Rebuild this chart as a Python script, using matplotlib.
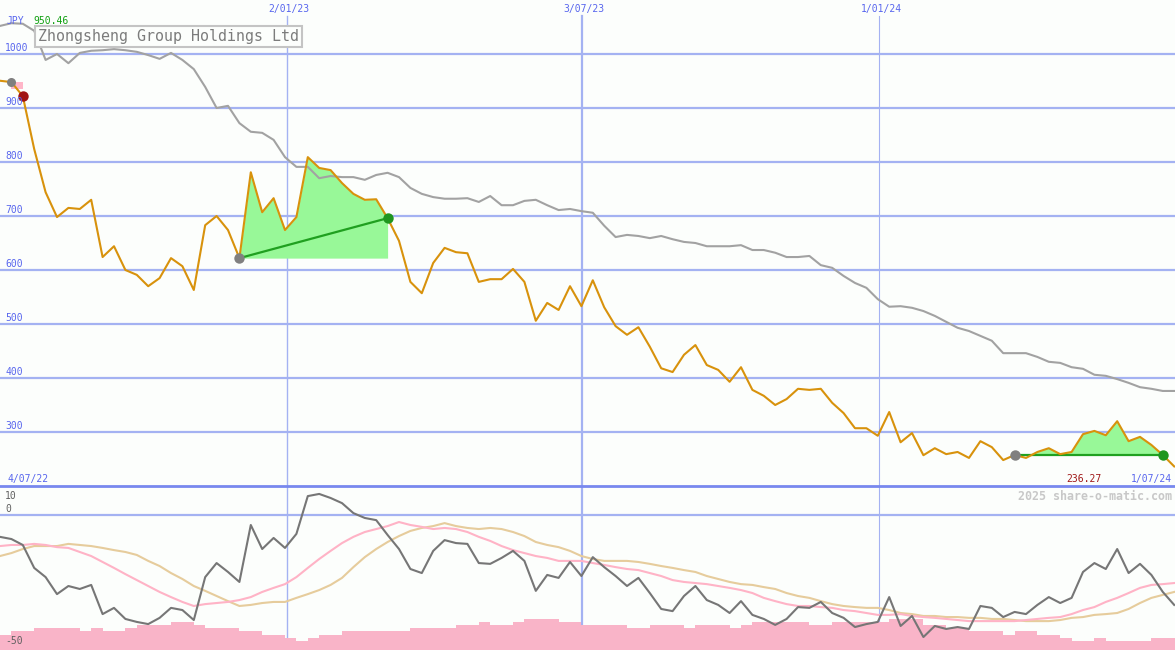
import numpy as np
import matplotlib.pyplot as plt

# weekly closes, JPY
price = [950.46, 948, 922, 824, 744, 698, 715, 713, 730, 624,
         644, 600, 591, 570, 585, 622, 607, 563, 683, 700,
         674, 622, 781, 707, 733, 674, 698, 809, 789, 785,
         761, 741, 730, 731, 696, 654, 578, 557, 613, 641,
         633, 631, 578, 583, 583, 602, 578, 506, 539, 526,
         570, 533, 581, 531, 496, 480, 494, 458, 418, 411,
         443, 461, 424, 415, 393, 420, 378, 367, 350, 361,
         380, 378, 380, 354, 335, 307, 307, 293, 337, 281,
         298, 257, 270, 259, 263, 252, 283, 272, 248, 257.4,
         252, 263, 270, 259, 263, 296, 302, 294, 320, 283,
         291, 276, 257.4, 236.27]

# market index rebased to the price scale
market = [1052, 1057, 1056, 1043, 989, 1000, 983, 1002, 1006, 1007,
          1009, 1007, 1004, 998, 991, 1002, 989, 972, 939, 900,
          904, 872, 856, 854, 841, 809, 791, 791, 770, 774,
          772, 772, 767, 776, 780, 772, 752, 741, 735, 732,
          732, 733, 726, 737, 720, 720, 728, 730, 720, 711,
          713, 709, 706, 682, 661, 665, 663, 659, 663, 657,
          652, 650, 644, 644, 644, 646, 637, 637, 632, 624,
          624, 626, 609, 604, 589, 576, 567, 546, 532, 533,
          530, 524, 515, 504, 493, 487, 478, 469, 446, 446,
          446, 439, 430, 428, 420, 417, 406, 404, 398, 391,
          383, 380, 376, 376]

momentum = [-8.1, -8.9, -11.1, -19.6, -23.0, -29.3, -26.3, -27.4, -25.9, -36.7,
            -34.4, -38.5, -39.6, -40.4, -38.1, -34.4, -35.2, -38.9, -23.0, -17.8,
            -21.1, -24.8, -3.7, -12.6, -8.5, -12.2, -7.0, 7.0, 7.8, 6.3,
            4.4, 0.7, -1.1, -1.9, -7.4, -12.6, -20.0, -21.5, -13.3, -9.3,
            -10.4, -10.7, -17.8, -18.1, -15.9, -13.3, -17.0, -28.1, -22.2, -23.3,
            -17.4, -22.6, -15.6, -19.3, -22.6, -26.3, -23.3, -28.9, -34.8, -35.6,
            -30.0, -26.3, -31.5, -33.3, -36.3, -31.9, -37.0, -38.5, -40.7, -38.5,
            -34.1, -34.4, -32.2, -36.3, -38.1, -41.5, -40.4, -39.6, -30.4, -41.1,
            -37.4, -45.2, -41.1, -42.2, -41.5, -42.2, -33.7, -34.4, -37.8, -35.9,
            -36.7, -33.3, -30.4, -32.6, -30.7, -21.1, -17.8, -20.0, -12.6, -21.5,
            -18.1, -22.2, -28.5, -33.3]

fast_avg = [-11.5, -11.1, -11.1, -10.7, -11.1, -11.9, -12.2, -13.7, -15.2, -17.4,
            -19.6, -21.9, -24.1, -26.3, -28.5, -30.4, -32.2, -33.7, -33.0, -32.6,
            -32.2, -31.5, -30.4, -28.5, -27.0, -25.6, -23.0, -19.6, -16.3, -13.3,
            -10.4, -8.1, -6.3, -5.2, -4.1, -2.6, -3.7, -4.4, -5.2, -4.8,
            -5.2, -6.3, -8.1, -9.6, -11.5, -13.0, -14.1, -15.2, -15.9, -17.0,
            -17.0, -17.0, -17.8, -18.5, -19.3, -20.0, -20.4, -21.5, -22.6, -24.1,
            -24.8, -25.2, -25.6, -26.3, -27.0, -27.8, -28.9, -30.7, -31.9, -33.0,
            -33.7, -33.7, -34.1, -34.4, -35.2, -35.6, -36.3, -37.0, -37.0, -36.7,
            -37.4, -37.8, -38.1, -38.5, -38.9, -39.3, -39.3, -39.3, -39.3, -39.3,
            -38.9, -38.5, -38.1, -37.8, -36.7, -35.2, -34.1, -32.2, -30.7, -28.9,
            -27.0, -25.9, -25.6, -25.2]

slow_avg = [-15.2, -14.1, -12.6, -11.5, -11.5, -11.5, -10.7, -11.1, -11.5, -12.2,
            -13.0, -13.7, -14.8, -17.0, -18.9, -21.5, -23.7, -26.3, -28.1, -30.0,
            -31.9, -33.7, -33.3, -32.6, -32.2, -32.2, -30.7, -29.3, -27.8, -25.9,
            -23.3, -19.3, -15.6, -12.6, -10.0, -7.8, -5.9, -4.8, -4.1, -3.0,
            -4.1, -4.8, -5.2, -4.8, -5.2, -6.3, -7.8, -10.0, -11.1, -11.9,
            -13.3, -15.2, -16.3, -17.0, -17.0, -17.0, -17.4, -18.1, -18.9, -19.6,
            -20.4, -21.1, -22.6, -23.7, -24.8, -25.6, -25.9, -26.7, -27.4, -28.9,
            -30.0, -30.7, -31.9, -33.0, -33.7, -34.1, -34.4, -34.4, -35.2, -36.3,
            -36.7, -37.4, -37.4, -37.8, -37.8, -38.1, -38.1, -38.5, -38.5, -38.9,
            -39.3, -39.3, -39.3, -38.9, -38.1, -37.8, -37.0, -36.7, -36.3, -34.8,
            -32.6, -30.7, -29.6, -28.5]

volume = [5, 6, 6, 7, 7, 7, 7, 6, 7, 6,
          6, 7, 8, 8, 8, 9, 9, 8, 7, 7,
          7, 6, 6, 5, 5, 4, 3, 4, 5, 5,
          6, 6, 6, 6, 6, 6, 7, 7, 7, 7,
          8, 8, 9, 8, 8, 9, 10, 10, 10, 9,
          9, 8, 8, 8, 8, 7, 7, 8, 8, 8,
          7, 8, 8, 8, 7, 8, 9, 9, 9, 9,
          9, 8, 8, 9, 9, 9, 9, 9, 10, 10,
          10, 8, 8, 7, 7, 6, 6, 6, 5, 6,
          6, 5, 5, 4, 3, 3, 4, 3, 3, 3,
          3, 4, 4, 4]

date_labels = ['2/01/23', '3/07/23', '1/01/24']
date_weeks = [25.2, 51.05, 77.1]
price_ticks = [1000, 900, 800, 700, 600, 500, 400, 300]
trades = [(21, 34), (89, 102)]

W, H = 1175, 650
BG = '#fcfefc'
GRID = '#a4b2f2'
BLUE = '#5866ee'
plt.rcParams['font.family'] = ['DejaVu Sans Mono']

x = np.arange(len(price))
price = np.array(price)
split = 164 / H


def fpos(px, py):
    return px / W, 1 - py / H


fig = plt.figure(figsize=(W / 100, H / 100), dpi=100, facecolor=BG)
ax = fig.add_axes([0, split, 1, 1 - split])
ax2 = fig.add_axes([0, 0, 1, split])
for a in (ax, ax2):
    a.set_facecolor(BG)
    a.set_axis_off()
    a.set_xlim(0, W / 11.4)
ax.set_ylim(200, 1100)
ax2.set_ylim(-50, 10.74)

# grid
for v in price_ticks:
    ax.axhline(v, color=GRID, lw=1.6, zorder=1)
    fig.text(*fpos(5, (1100 - v) * 0.54 - 6), str(v), color=BLUE, fontsize=7,
             va='center', ha='left')
ax2.axhline(0, color=GRID, lw=1.6, zorder=1)
for d, lw in zip(date_weeks, [1.0, 1.6, 0.8]):
    ax.axvline(d, ymax=1 - 16 / 486, color=GRID, lw=lw, zorder=1)
    ax2.axvline(d, color=GRID, lw=lw, zorder=1)
for lab, d in zip(date_labels, date_weeks):
    fig.text(*fpos(d * 11.4 + 2, 9), lab, color=BLUE, fontsize=7,
             ha='center', va='center')
fig.add_artist(plt.Line2D([0, 1], [split, split], color='#7888ee', lw=2.0))

# trade highlights
for s, e in trades:
    seg = slice(s, e + 1)
    base = price[s]
    ax.fill_between(x[seg], price[seg], base, where=price[seg] >= base,
                    interpolate=True, color='#98f898', lw=0, zorder=2)
    ax.plot([s, e], [price[s], price[e]], color='#20a020', lw=1.6, zorder=4)
    ax.plot(s, price[s], 'o', ms=7.5, color='#808080', mec='none', zorder=6)
    ax.plot(e, price[e], 'o', ms=7.5, color='#1f961f', mec='none', zorder=6)

ax.plot(x, market, color='#a2a2a2', lw=1.5, zorder=3)
ax.plot(x, price, color='#d8920c', lw=1.5, zorder=5)

# first entry marker
ax.fill_between(x[1:3], price[1], (price[1] + price[2]) / 2, color='#ffb6c8',
                lw=0, zorder=4)
ax.plot(1, price[1], 'o', ms=6.5, color='#808080', mec='none', zorder=6)
ax.plot(2, price[2], 'o', ms=7.5, color='#a01414', mec='none', zorder=7)

# lower panel
ax2.bar(x, np.array(volume) * 1.148, bottom=-50, width=1, align='edge',
        color='#f9b4c8', lw=0, zorder=2)
ax2.plot(x, slow_avg, color='#e6cc9c', lw=1.5, zorder=3)
ax2.plot(x, fast_avg, color='#ffb3c6', lw=1.5, zorder=3)
ax2.plot(x, momentum, color='#767676', lw=1.5, zorder=4)

# labels
fig.text(*fpos(6, 21), 'JPY', color=BLUE, fontsize=7, va='center')
fig.text(*fpos(33, 21), '950.46', color='#10a010', fontsize=7, va='center')
fig.text(*fpos(38, 36.5), 'Zhongsheng Group Holdings Ltd', color='#7c7c7c',
         fontsize=10.8, va='center', ha='left',
         bbox=dict(boxstyle='square,pad=0.22', fc=BG, ec='#c4c4c4', lw=1.5))
fig.text(*fpos(8, 479), '4/07/22', color=BLUE, fontsize=7, va='center')
fig.text(*fpos(1066, 479), '236.27', color='#a01818', fontsize=7, va='center')
fig.text(*fpos(1172, 479), '1/07/24', color=BLUE, fontsize=7, va='center',
         ha='right')
fig.text(*fpos(1172, 496), '2025 share-o-matic.com', color='#c8c8c8',
         fontsize=8.4, fontweight='bold', va='center', ha='right')
fig.text(*fpos(5, 496), '10', color='#606060', fontsize=7, va='center')
fig.text(*fpos(5, 509), '0', color='#606060', fontsize=7, va='center')
fig.text(*fpos(5, 641), '-50', color='#606060', fontsize=7, va='center')

fig.savefig('out.png', dpi=100, facecolor=BG)
